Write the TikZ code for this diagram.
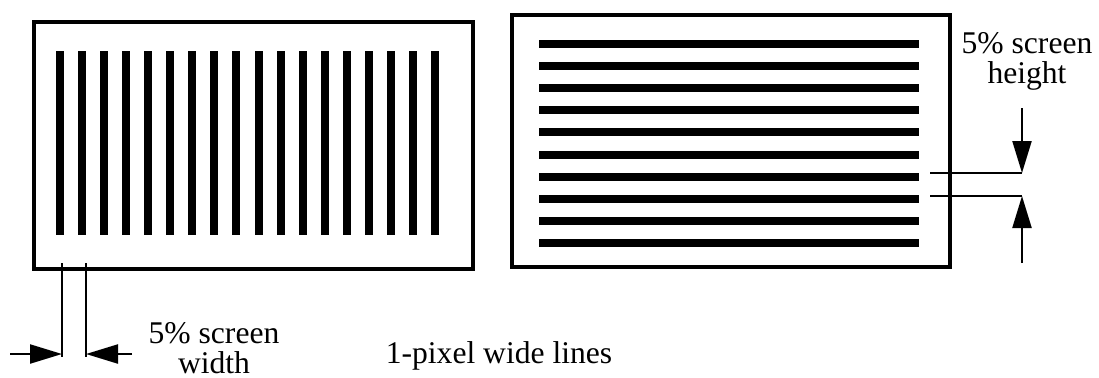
\documentclass[tikz,border=0pt]{standalone}
\usepackage{fontspec}
\setmainfont{Liberation Serif}
\usetikzlibrary{arrows.meta}
\tikzset{
  frame/.style={line width=2.3pt},
  bar/.style={line width=4pt},
  dimline/.style={line width=1.1pt},
  dimarrow/.style={dimline, -{Triangle[length=16pt, width=9.5pt]}},
  caption/.style={font=\fontsize{15.8pt}{15pt}\selectfont, inner sep=0pt, anchor=base, align=center}
}
\begin{document}
\begin{tikzpicture}[x=0.5pt, y=-0.5pt]
  \useasboundingbox (0,0) rectangle (1099,377);
  % left screen, vertical lines
  \draw[frame] (34,22) rectangle (473,269);
  \foreach \i in {0,...,17}
    \draw[bar] ({60+22.06*\i},51) -- ({60+22.06*\i},235);
  % right screen, horizontal lines
  \draw[frame] (512,15) rectangle (950,267);
  \foreach \i in {0,...,9}
    \draw[bar] (539,{44+22.1*\i}) -- (919,{44+22.1*\i});
  % width dimension
  \coordinate (wa) at (62,263);
  \coordinate (wb) at (86,263);
  \coordinate (wa tip) at (62,354);
  \coordinate (wb tip) at (86,354);
  \coordinate (wa tail) at (10,354);
  \coordinate (wb tail) at (132,354);
  \draw[dimline] (wa) -- ++(0,94);
  \draw[dimline] (wb) -- ++(0,94);
  \draw[dimarrow] (wa tail) -- (wa tip);
  \draw[dimarrow] (wb tail) -- (wb tip);
  % height dimension
  \coordinate (ha) at (930,173);
  \coordinate (hb) at (930,196);
  \coordinate (ha tip) at (1022,173);
  \coordinate (hb tip) at (1022,196);
  \coordinate (ha tail) at (1022,108);
  \coordinate (hb tail) at (1022,263);
  \draw[dimline] (ha) -- (ha tip);
  \draw[dimline] (hb) -- (hb tip);
  \draw[dimarrow] (ha tail) -- (ha tip);
  \draw[dimarrow] (hb tail) -- (hb tip);
  % labels (base anchor sits on the last line)
  \node[caption] (wlabel) at (214,373) {5\% screen\\width};
  \node[caption] (hlabel) at (1027,83) {5\% screen\\height};
  \node[caption] (note) at (499,363) {1-pixel wide lines};
\end{tikzpicture}
\end{document}
